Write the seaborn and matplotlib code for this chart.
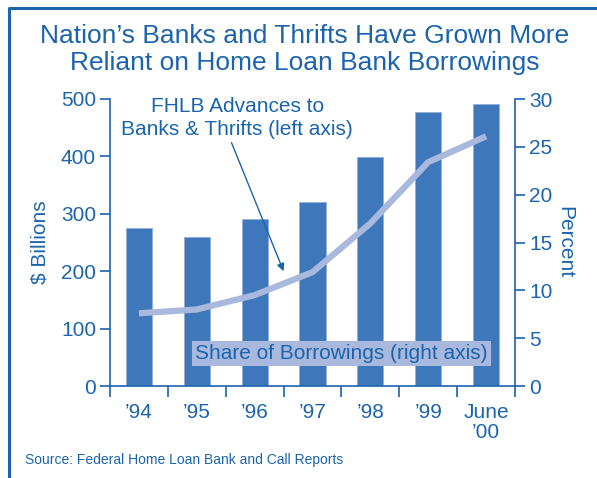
import matplotlib
matplotlib.use("Agg")
import matplotlib.pyplot as plt
import seaborn as sns
import numpy as np
import pandas as pd
from matplotlib.lines import Line2D
from matplotlib.ticker import FixedLocator

categories = ["\u201994", "\u201995", "\u201996", "\u201997", "\u201998", "\u201999", "June\n\u201900"]
advances_billions = [275, 260, 291, 321, 399, 477, 492]
share_percent = [7.6, 8.0, 9.5, 11.9, 17.0, 23.4, 26.1]
left_ticks = [0, 100, 200, 300, 400, 500]
right_ticks = [0, 5, 10, 15, 20, 25, 30]

BLUE_TXT = "#1b64ad"
BAR = "#3f78ba"
LINE = "#a9b8dd"

sns.set_style("white")
plt.rcParams["font.family"] = ["Liberation Sans", "DejaVu Sans"]

fig = plt.figure(figsize=(5.97, 4.78), dpi=100)
ax = fig.add_axes([110/597, 92/478, 405/597, 287/478])

df = pd.DataFrame({"cat": categories, "adv": advances_billions})
sns.barplot(data=df, x="cat", y="adv", color=BAR, width=0.45, saturation=1,
            edgecolor="#8fb0da", linewidth=0.6, ax=ax)
ax.set_xlim(-0.5, len(categories) - 0.5)
ax.set_ylim(0, 500)
ax.set_yticks(left_ticks)
ax.set_xlabel("")
ax.set_ylabel("$ Billions", color=BLUE_TXT, fontsize=15, labelpad=8)

ax2 = ax.twinx()
sns.lineplot(x=np.arange(len(categories)), y=share_percent, color=LINE, linewidth=4.5,
             solid_capstyle="butt", ax=ax2)
ax2.set_ylim(0, 30)
ax2.set_yticks(right_ticks)
ax2.set_ylabel("Percent", color=BLUE_TXT, fontsize=15, rotation=-90, labelpad=16)
ax2.set_xlim(-0.5, len(categories) - 0.5)

for a in (ax, ax2):
    a.spines["top"].set_visible(False)
    for s in ["left", "right", "bottom"]:
        a.spines[s].set_color(BLUE_TXT)
        a.spines[s].set_linewidth(1.2)
ax.spines["right"].set_visible(False)
ax2.spines["left"].set_visible(False)
ax2.spines["bottom"].set_visible(False)

ax.tick_params(axis="y", direction="out", length=7, width=1.2, color=BLUE_TXT,
               labelcolor=BLUE_TXT, labelsize=15, pad=3, left=True)
ax2.tick_params(axis="y", direction="out", length=7, width=1.2, color=BLUE_TXT,
                labelcolor=BLUE_TXT, labelsize=15, pad=3, right=True)
ax.xaxis.set_minor_locator(FixedLocator(np.arange(-0.5, len(categories), 1.0)))
ax.tick_params(axis="x", which="minor", direction="out", length=8, width=1.2,
               color=BLUE_TXT, bottom=True)
ax.tick_params(axis="x", which="major", length=0, labelcolor=BLUE_TXT,
               labelsize=15, pad=12, bottom=True)
for lbl in ax.get_xticklabels():
    lbl.set_verticalalignment("top")
    lbl.set_linespacing(1.1)

ax.text(1.7, 467, "FHLB Advances to\nBanks & Thrifts (left axis)",
        ha="center", va="center", fontsize=15, color=BLUE_TXT, linespacing=1.3, zorder=5)
ax.annotate("", xy=(2.5, 200), xytext=(1.6, 424),
            arrowprops=dict(arrowstyle="-|>", color=BLUE_TXT, lw=1.0, shrinkA=0, shrinkB=0,
                            mutation_scale=11), zorder=5)

ax2.text(3.5, 3.4, "Share of Borrowings (right axis)", ha="center", va="center",
         fontsize=15, color=BLUE_TXT, zorder=6,
         bbox=dict(boxstyle="square,pad=0.15", facecolor=LINE, edgecolor="none"))

fig.text(305/597, 1 - 36/478, "Nation\u2019s Banks and Thrifts Have Grown More",
         ha="center", va="center", fontsize=19, color=BLUE_TXT)
fig.text(305/597, 1 - 63/478, "Reliant on Home Loan Bank Borrowings",
         ha="center", va="center", fontsize=19, color=BLUE_TXT)
fig.text(25/597, 1 - 460/478, "Source: Federal Home Loan Bank and Call Reports",
         ha="left", va="center", fontsize=10, color=BLUE_TXT)

fig.add_artist(Line2D([9/597, 9/597, 1.0], [0.0, 1 - 8/478, 1 - 8/478],
                      transform=fig.transFigure, color="#1f62ad", linewidth=2.2))

fig.savefig("out.png", dpi=100)
